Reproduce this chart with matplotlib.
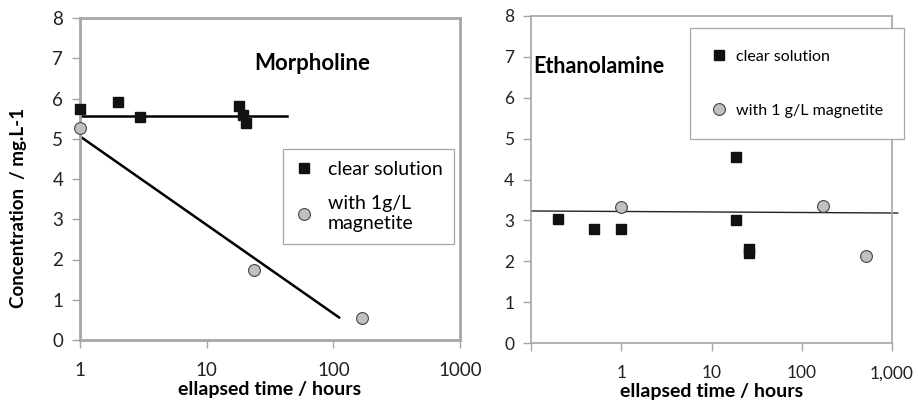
import matplotlib.pyplot as plt
from matplotlib.lines import Line2D

plt.rcParams['font.family'] = ['Lato', 'DejaVu Sans']

# Morpholine data
morph_clear_t = [1, 2, 3, 18, 19.3, 20.3]
morph_clear_c = [5.74, 5.91, 5.54, 5.82, 5.6, 5.39]
morph_mag_t = [1, 23.8, 167]
morph_mag_c = [5.27, 1.74, 0.54]
morph_fit_clear_t = [1, 43]
morph_fit_clear_c = [5.57, 5.57]
morph_fit_mag_t = [1, 111]
morph_fit_mag_c = [5.06, 0.56]

# Ethanolamine data
eth_clear_t = [0.2, 0.5, 1, 18.6, 18.6, 26.2, 26.2]
eth_clear_c = [3.03, 2.80, 2.79, 4.56, 3.0, 2.30, 2.20]
eth_mag_t = [1, 171, 510]
eth_mag_c = [3.33, 3.35, 2.14]
eth_fit_t = [0.1, 1156]
eth_fit_c = [3.23, 3.18]

left_xticks = [1, 10, 100, 1000]
left_xlabels = ['1', '10', '100', '1000']
right_xticks = [0.1, 1, 10, 100, 1000]
right_xlabels = ['', '1', '10', '100', '1,000']

spine_col = '#a6a6a6'
mag_col = '#c0c0c0'

fig = plt.figure(figsize=(9.18, 4.01), dpi=100)
ax1 = fig.add_axes([80 / 918, 61 / 401, 380 / 918, 322 / 401])
ax2 = fig.add_axes([531 / 918, 58 / 401, 361 / 918, 327 / 401])


def style_axes(ax, lw, tsize):
    ax.set_xscale('log')
    ax.set_ylim(0, 8)
    ax.set_yticks(range(0, 9))
    ax.minorticks_off()
    for s in ax.spines.values():
        s.set_color(spine_col)
        s.set_linewidth(lw)
    ax.tick_params(axis='both', colors=spine_col, labelcolor='#222222',
                   labelsize=tsize, length=6, width=1.0)
    ax.tick_params(axis='x', pad=10)
    ax.tick_params(axis='y', pad=6)
    ax.set_xlabel('ellapsed time / hours', fontsize=14, fontweight='bold',
                  labelpad=1)


# Left panel: Morpholine
style_axes(ax1, 2.0, 13.5)
ax1.set_xlim(1, 1000)
ax1.set_xticks(left_xticks)
ax1.set_xticklabels(left_xlabels)
ax1.minorticks_off()
ax1.plot(morph_fit_clear_t, morph_fit_clear_c, color='black', lw=1.8,
         zorder=2)
ax1.plot(morph_fit_mag_t, morph_fit_mag_c, color='black', lw=1.8, zorder=2)
ax1.plot(morph_clear_t, morph_clear_c, ls='none', marker='s', ms=7,
         color='#111111', clip_on=False, zorder=3)
ax1.plot(morph_mag_t, morph_mag_c, ls='none', marker='o', ms=8.5,
         markerfacecolor=mag_col, markeredgecolor='#444444',
         markeredgewidth=0.8, clip_on=False, zorder=3)
ax1.text(0.61, 0.86, 'Morpholine', transform=ax1.transAxes, fontsize=16,
         fontweight='bold', ha='center', va='center')
ax1.set_ylabel('Concentration  / mg.L-1', fontsize=13.5, fontweight='bold')
ax1.yaxis.set_label_coords(-0.14, 0.41)

h1 = [Line2D([], [], ls='none', marker='s', ms=7, color='#111111'),
      Line2D([], [], ls='none', marker='o', ms=8.5, markerfacecolor=mag_col,
             markeredgecolor='#444444', markeredgewidth=0.8)]
leg1 = ax1.legend(h1, ['clear solution', 'with 1g/L\nmagnetite'],
                  loc='upper left', bbox_to_anchor=(283 / 918, 1 - 149 / 401),
                  bbox_transform=fig.transFigure, fontsize=14,
                  fancybox=False, edgecolor=spine_col, framealpha=1,
                  labelspacing=0.9, borderpad=0.6, handletextpad=0.7,
                  handlelength=1.0, borderaxespad=0)
leg1.get_frame().set_linewidth(0.9)

# Right panel: Ethanolamine
style_axes(ax2, 1.2, 12.5)
ax2.set_xlim(0.1, 1000)
ax2.set_xticks(right_xticks)
ax2.set_xticklabels(right_xlabels)
ax2.minorticks_off()
ax2.plot(eth_fit_t, eth_fit_c, color='#222222', lw=1.0, clip_on=False,
         zorder=2)
ax2.plot(eth_clear_t, eth_clear_c, ls='none', marker='s', ms=6.5,
         color='#111111', zorder=3)
ax2.plot(eth_mag_t, eth_mag_c, ls='none', marker='o', ms=8.5,
         markerfacecolor=mag_col, markeredgecolor='#444444',
         markeredgewidth=0.8, zorder=3)
ax2.text(0.005, 0.845, 'Ethanolamine', transform=ax2.transAxes,
         fontsize=15.5, fontweight='bold', ha='left', va='center')

h2 = [Line2D([], [], ls='none', marker='s', ms=6.5, color='#111111'),
      Line2D([], [], ls='none', marker='o', ms=8.5, markerfacecolor=mag_col,
             markeredgecolor='#444444', markeredgewidth=0.8)]
leg2 = ax2.legend(h2, ['clear solution', 'with 1 g/L magnetite'],
                  loc='upper left', bbox_to_anchor=(690 / 918, 1 - 28 / 401),
                  bbox_transform=fig.transFigure, fontsize=11.5,
                  fancybox=False, edgecolor=spine_col, framealpha=1,
                  labelspacing=2.5, borderpad=1.35, handletextpad=0.6,
                  handlelength=0.9, borderaxespad=0)
leg2.get_frame().set_linewidth(0.9)

fig.savefig('out.png', dpi=100)
